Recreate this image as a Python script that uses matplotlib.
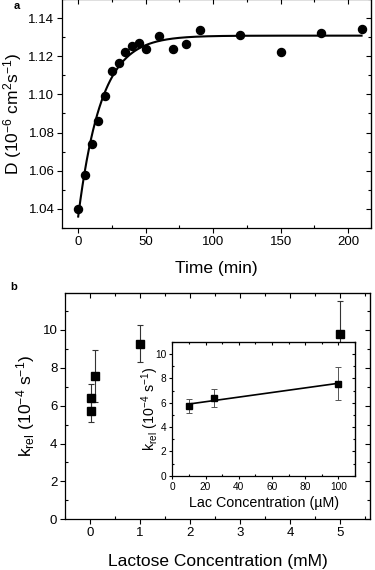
import numpy as np
import matplotlib
matplotlib.use("Agg")
import matplotlib.pyplot as plt
from matplotlib.ticker import MultipleLocator

plt.rcParams['font.family'] = ['Liberation Sans', 'DejaVu Sans']
plt.rcParams['mathtext.default'] = 'regular'

# Panel a data
time_min = [0, 5, 10, 15, 20, 25, 30, 35, 40, 45, 50, 60, 70, 80, 90, 120, 150, 180, 210]
diff_coef = [1.040, 1.058, 1.074, 1.086, 1.0994, 1.1123, 1.1165, 1.1222, 1.1254, 1.1271,
             1.1236, 1.1305, 1.1238, 1.1262, 1.1336, 1.1312, 1.122, 1.132, 1.1345]
fit_plateau = 1.1308
fit_amplitude = 0.0948
fit_tau = 17.0

# Panel b data
lactose_mM = [0.01, 0.025, 0.1, 1.0, 5.0]
k_rel = [5.73, 6.38, 7.57, 9.27, 9.79]
k_err = [0.6, 0.76, 1.35, 0.97, 1.76]

# Inset data
lac_uM = [10, 25, 100]
k_rel_in = [5.73, 6.38, 7.57]
k_err_in = [0.6, 0.76, 1.35]

W, H = 375, 570
fig = plt.figure(figsize=(W / 100, H / 100), dpi=100)


def frac(l, t, r, b):
    return [l / W, 1 - b / H, (r - l) / W, (b - t) / H]


def style_axes(ax, xmaj, xmin, ymaj, ymin, size=9.5, majlen=3.5, minlen=2.0):
    ax.xaxis.set_major_locator(MultipleLocator(xmaj))
    ax.xaxis.set_minor_locator(MultipleLocator(xmin))
    ax.yaxis.set_major_locator(MultipleLocator(ymaj))
    ax.yaxis.set_minor_locator(MultipleLocator(ymin))
    ax.tick_params(which='major', direction='out', length=majlen, width=0.8, labelsize=size, pad=2)
    ax.tick_params(which='minor', direction='in', length=minlen, width=0.8)
    for s in ax.spines.values():
        s.set_linewidth(0.9)
    sx = ax.secondary_xaxis('top')
    sx.xaxis.set_major_locator(MultipleLocator(xmaj))
    sx.xaxis.set_minor_locator(MultipleLocator(xmin))
    sx.tick_params(which='major', direction='in', length=majlen, width=0.8, labeltop=False)
    sx.tick_params(which='minor', direction='in', length=minlen, width=0.8)
    sy = ax.secondary_yaxis('right')
    sy.yaxis.set_major_locator(MultipleLocator(ymaj))
    sy.yaxis.set_minor_locator(MultipleLocator(ymin))
    sy.tick_params(which='major', direction='in', length=majlen, width=0.8, labelright=False)
    sy.tick_params(which='minor', direction='in', length=minlen, width=0.8)


# ---------- Panel a ----------
ax1 = fig.add_axes(frac(62, -1, 371, 228))
t_fit = np.linspace(0, 210, 400)
d_fit = fit_plateau - fit_amplitude * np.exp(-t_fit / fit_tau)
ax1.plot(t_fit, d_fit, color='black', lw=1.5, zorder=2)
ax1.plot(time_min, diff_coef, 'o', color='black', ms=5.8, zorder=3)
ax1.set_xlim(-12, 217)
ax1.set_ylim(1.03, 1.15)
style_axes(ax1, 50, 25, 0.02, 0.01)
ax1.yaxis.set_major_formatter(matplotlib.ticker.FormatStrFormatter('%.2f'))
ax1.set_xlabel('Time (min)', fontsize=12.5)
ax1.xaxis.set_label_coords(0.5, -0.175)
ax1.xaxis.label.set_verticalalignment('center')
ax1.set_ylabel('D (10$^{-6}$ cm$^{2}$s$^{-1}$)', fontsize=12.5)
ax1.yaxis.set_label_coords(-(62 - 13) / 309, 0.5)
ax1.yaxis.label.set_verticalalignment('center')
fig.text(14 / W, 1 - 6 / H, 'a', fontsize=8, fontweight='bold', ha='left', va='center')

# ---------- Panel b ----------
ax2 = fig.add_axes(frac(65, 293, 370, 519.3))
ax2.errorbar(lactose_mM, k_rel, yerr=k_err, fmt='s', color='black', ms=5.5,
             ecolor='#333333', elinewidth=0.8, capsize=2.5, capthick=0.8)
ax2.set_xlim(-0.5, 5.6)
ax2.set_ylim(0, 11.95)
style_axes(ax2, 1, 0.5, 2, 1)
ax2.set_xlabel('Lactose Concentration (mM)', fontsize=12.5)
ax2.xaxis.set_label_coords(0.5, -(561.7 - 519.3) / (519.3 - 293))
ax2.xaxis.label.set_verticalalignment('center')
ax2.set_ylabel('k$_{rel}$ (10$^{-4}$ s$^{-1}$)', fontsize=12.5)
ax2.yaxis.set_label_coords(-(65 - 26) / 305, 0.5)
ax2.yaxis.label.set_verticalalignment('center')
fig.text(10 / W, 1 - 287 / H, 'b', fontsize=8, fontweight='bold', ha='left', va='center')

# ---------- Inset ----------
ax3 = fig.add_axes(frac(172.3, 342, 355, 475.7))
slope, intercept = np.polyfit(lac_uM, k_rel_in, 1)
xl = np.array([lac_uM[0], lac_uM[-1]])
ax3.plot(xl, slope * xl + intercept, color='black', lw=1.2, zorder=2)
ax3.errorbar(lac_uM, k_rel_in, yerr=k_err_in, fmt='s', color='black', ms=4,
             ecolor='#555555', elinewidth=0.7, capsize=2, capthick=0.7, zorder=3)
ax3.set_xlim(0, 110)
ax3.set_ylim(0, 11)
style_axes(ax3, 20, 10, 2, 1, size=7.3, majlen=2.5, minlen=1.5)
ax3.set_xlabel('Lac Concentration (\u00b5M)', fontsize=10.3)
ax3.xaxis.set_label_coords(0.5, -(503 - 475.7) / (475.7 - 342))
ax3.xaxis.label.set_verticalalignment('center')
ax3.set_ylabel('k$_{rel}$ (10$^{-4}$ s$^{-1}$)', fontsize=10.3)
ax3.yaxis.set_label_coords(-(172.3 - 150) / (355 - 172.3), 0.5)
ax3.yaxis.label.set_verticalalignment('center')

fig.savefig('out.png', dpi=100)
